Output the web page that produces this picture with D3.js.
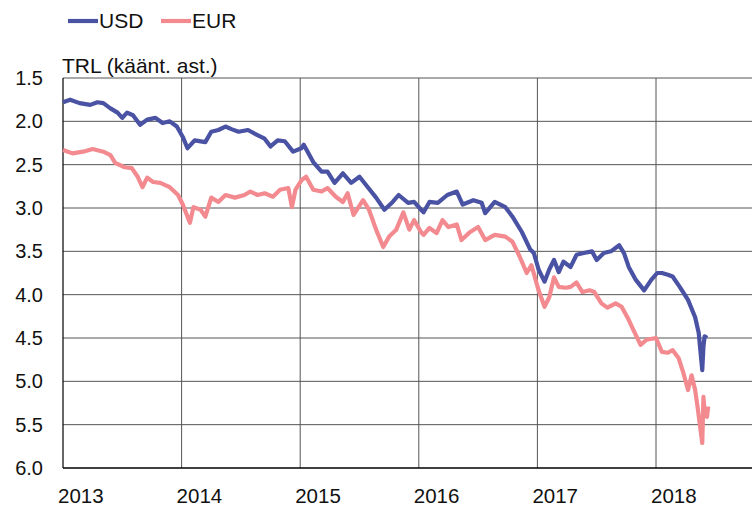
<!DOCTYPE html>
<html>
<head>
<meta charset="utf-8">
<script src="https://cdn.jsdelivr.net/npm/d3@7/dist/d3.min.js"></script>
<style>
  body { margin: 0; background: #fff; }
  svg { display: block; font-family: "Liberation Sans", Arial, sans-serif; }
</style>
</head>
<body>
<svg id="chart" width="752" height="506"></svg>
<script>
// decimal years and TRL per currency
const usdTime = [2013.00, 2013.06, 2013.14, 2013.23, 2013.29, 2013.34, 2013.40, 2013.46, 2013.50, 2013.54,
  2013.59, 2013.65, 2013.71, 2013.78, 2013.84, 2013.90, 2013.96, 2014.01, 2014.05, 2014.11,
  2014.20, 2014.25, 2014.31, 2014.37, 2014.42, 2014.48, 2014.56, 2014.64, 2014.70, 2014.75,
  2014.81, 2014.87, 2014.94, 2015.01, 2015.03, 2015.11, 2015.18, 2015.23, 2015.29, 2015.36,
  2015.43, 2015.50, 2015.57, 2015.64, 2015.71, 2015.78, 2015.83, 2015.91, 2015.96, 2016.02,
  2016.04, 2016.09, 2016.16, 2016.24, 2016.32, 2016.37, 2016.46, 2016.53, 2016.56, 2016.64,
  2016.73, 2016.79, 2016.87, 2016.94, 2016.97, 2017.01, 2017.06, 2017.10, 2017.14, 2017.18,
  2017.22, 2017.28, 2017.33, 2017.39, 2017.46, 2017.50, 2017.56, 2017.62, 2017.69, 2017.73,
  2017.77, 2017.83, 2017.90, 2017.96, 2018.01, 2018.05, 2018.10, 2018.14, 2018.20, 2018.27,
  2018.33, 2018.36, 2018.39, 2018.40, 2018.41, 2018.43];
const usdValues = [1.78, 1.75, 1.79, 1.81, 1.78, 1.79, 1.85, 1.90, 1.96, 1.90,
  1.93, 2.04, 1.98, 1.96, 2.02, 2.00, 2.06, 2.18, 2.31, 2.22,
  2.24, 2.12, 2.10, 2.06, 2.09, 2.12, 2.10, 2.16, 2.20, 2.29,
  2.22, 2.23, 2.35, 2.31, 2.27, 2.47, 2.58, 2.58, 2.71, 2.60,
  2.71, 2.64, 2.76, 2.88, 3.02, 2.93, 2.85, 2.94, 2.93, 3.02,
  3.05, 2.93, 2.94, 2.85, 2.81, 2.96, 2.91, 2.94, 3.06, 2.93,
  2.99, 3.10, 3.28, 3.48, 3.52, 3.71, 3.85, 3.71, 3.60, 3.74,
  3.62, 3.68, 3.54, 3.52, 3.50, 3.60, 3.52, 3.50, 3.43, 3.52,
  3.68, 3.83, 3.95, 3.83, 3.75, 3.75, 3.77, 3.79, 3.91, 4.06,
  4.26, 4.44, 4.87, 4.60, 4.48, 4.50];

const eurTime = [2013.00, 2013.08, 2013.17, 2013.25, 2013.34, 2013.40, 2013.44, 2013.52, 2013.58, 2013.63,
  2013.67, 2013.71, 2013.76, 2013.82, 2013.90, 2013.97, 2014.01, 2014.07, 2014.10, 2014.16,
  2014.20, 2014.25, 2014.31, 2014.37, 2014.45, 2014.53, 2014.58, 2014.64, 2014.70, 2014.77,
  2014.83, 2014.90, 2014.93, 2014.96, 2015.01, 2015.05, 2015.11, 2015.18, 2015.23, 2015.30,
  2015.36, 2015.40, 2015.45, 2015.53, 2015.58, 2015.64, 2015.70, 2015.75, 2015.81, 2015.87,
  2015.92, 2015.96, 2016.02, 2016.04, 2016.09, 2016.15, 2016.20, 2016.25, 2016.32, 2016.36,
  2016.43, 2016.50, 2016.56, 2016.64, 2016.73, 2016.79, 2016.85, 2016.91, 2016.95, 2017.01,
  2017.06, 2017.10, 2017.14, 2017.18, 2017.24, 2017.28, 2017.33, 2017.38, 2017.44, 2017.48,
  2017.54, 2017.59, 2017.66, 2017.71, 2017.77, 2017.81, 2017.87, 2017.92, 2018.00, 2018.05,
  2018.10, 2018.14, 2018.19, 2018.23, 2018.27, 2018.30, 2018.33, 2018.35, 2018.39, 2018.40,
  2018.41, 2018.43, 2018.44];
const eurValues = [2.33, 2.37, 2.35, 2.32, 2.35, 2.39, 2.48, 2.53, 2.54, 2.64,
  2.76, 2.65, 2.70, 2.71, 2.76, 2.85, 2.96, 3.17, 2.99, 3.02,
  3.10, 2.88, 2.93, 2.85, 2.88, 2.85, 2.81, 2.85, 2.83, 2.87,
  2.79, 2.77, 2.99, 2.79, 2.68, 2.64, 2.79, 2.81, 2.77, 2.87,
  2.93, 2.83, 3.08, 2.91, 3.02, 3.25, 3.45, 3.33, 3.25, 3.05,
  3.25, 3.14, 3.28, 3.31, 3.23, 3.29, 3.14, 3.22, 3.19, 3.37,
  3.28, 3.22, 3.37, 3.31, 3.33, 3.39, 3.56, 3.75, 3.66, 3.95,
  4.14, 4.03, 3.80, 3.91, 3.92, 3.91, 3.86, 3.97, 3.95, 3.97,
  4.10, 4.15, 4.10, 4.14, 4.29, 4.41, 4.58, 4.52, 4.50, 4.66,
  4.67, 4.64, 4.73, 4.90, 5.10, 4.93, 5.10, 5.29, 5.71, 5.18,
  5.35, 5.41, 5.29];

const seriesNames = ["USD", "EUR"];
const seriesColors = ["#4a52a3", "#f28a90"];
const yTicks = [1.5, 2.0, 2.5, 3.0, 3.5, 4.0, 4.5, 5.0, 5.5, 6.0];
const years = [2013, 2014, 2015, 2016, 2017, 2018];
const yTitle = "TRL (käänt. ast.)";

const svg = d3.select("#chart");
const plotLeft = 63, plotRight = 752, plotTop = 78, plotBottom = 468;

const x = d3.scaleLinear().domain([2013, 2013 + (plotRight - plotLeft) / 118.6]).range([plotLeft, plotRight]);
// inverted scale: weaker lira lower down
const y = d3.scaleLinear().domain([1.5, 6.0]).range([plotTop, plotBottom]);

// grid
svg.append("g").selectAll("line").data(yTicks.slice(0, -1)).join("line")
    .attr("x1", plotLeft).attr("x2", plotRight)
    .attr("y1", d => y(d)).attr("y2", d => y(d))
    .attr("stroke", "#555").attr("stroke-width", 1);
svg.append("g").selectAll("line").data(years.slice(1)).join("line")
    .attr("x1", d => x(d)).attr("x2", d => x(d))
    .attr("y1", plotTop).attr("y2", plotBottom)
    .attr("stroke", "#555").attr("stroke-width", 1);

// axis lines
svg.append("line").attr("x1", plotLeft).attr("x2", plotLeft).attr("y1", plotTop).attr("y2", plotBottom)
    .attr("stroke", "#000").attr("stroke-width", 1.2);
svg.append("line").attr("x1", plotLeft).attr("x2", plotRight).attr("y1", plotBottom).attr("y2", plotBottom)
    .attr("stroke", "#000").attr("stroke-width", 1.5);

// y labels
svg.append("g").selectAll("text").data(yTicks).join("text")
    .attr("x", 43).attr("y", d => y(d) + 7)
    .attr("text-anchor", "end").attr("font-size", 20).attr("fill", "#111")
    .text(d => d.toFixed(1));

// x labels
svg.append("g").selectAll("text").data(years).join("text")
    .attr("x", d => x(d) - 5).attr("y", 503)
    .attr("font-size", 20.5).attr("fill", "#111")
    .text(d => d);

svg.append("text").attr("x", 62).attr("y", 73)
    .attr("font-size", 21).attr("fill", "#111").text(yTitle);

// lines
const line = d3.line().x(d => x(d[0])).y(d => y(d[1]));
const data = [d3.zip(usdTime, usdValues), d3.zip(eurTime, eurValues)];
// EUR underneath, USD on top
[1, 0].forEach(i => {
    svg.append("path").datum(data[i])
        .attr("d", line)
        .attr("fill", "none")
        .attr("stroke", seriesColors[i])
        .attr("stroke-width", 4.2)
        .attr("stroke-linejoin", "round");
});

// legend
const legendX = [68, 161];
seriesNames.forEach((name, i) => {
    svg.append("line")
        .attr("x1", legendX[i]).attr("x2", legendX[i] + 30)
        .attr("y1", 21).attr("y2", 21)
        .attr("stroke", seriesColors[i]).attr("stroke-width", 4.2);
    svg.append("text").attr("x", legendX[i] + 31).attr("y", 28)
        .attr("font-size", 21).attr("fill", "#111").text(name);
});
</script>
</body>
</html>
